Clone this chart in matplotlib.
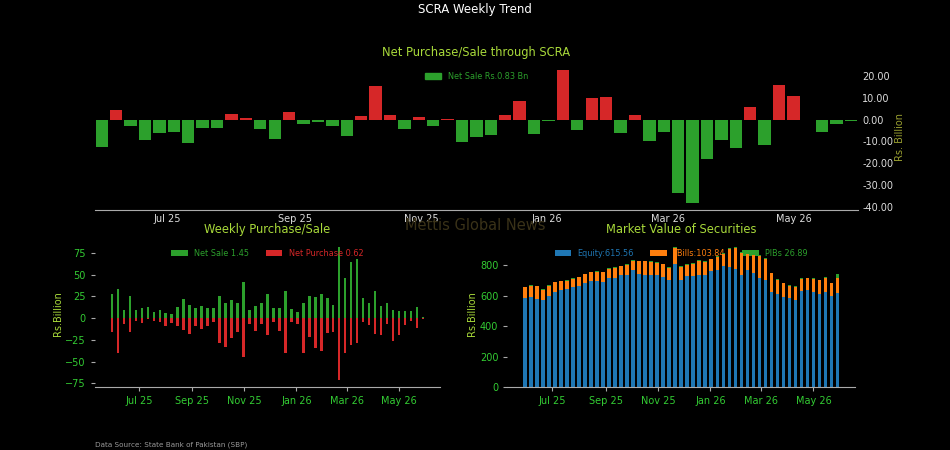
import matplotlib
matplotlib.use("Agg")
import matplotlib.pyplot as plt
import matplotlib.dates as mdates
from matplotlib.patches import Patch
import pandas as pd
import numpy as np

# ---------------- data ----------------
weeks = pd.date_range("2025-05-30", periods=53, freq="7D")

net_scra = [-12.6, 4.6, -2.8, -9.2, -6.1, -5.8, -10.9, -3.8, -3.8, 2.8,
            0.6, -4.1, -8.8, 3.5, -2.0, -0.9, -3.1, -7.7, 1.8, 15.7,
            2.1, -4.1, 1.4, -2.8, 0.3, -10.3, -8.0, -7.1, 2.1, 8.6,
            -6.8, -0.6, 23.0, -4.6, 9.8, 10.6, -6.3, 2.3, -9.7, -5.7,
            -33.8, -38.6, -18.3, -9.4, -12.9, 6.0, -11.5, 16.0, 10.8, 0.0,
            -5.7, -1.8, -0.83]

net_sale = [27.3, 33.8, 9.6, 25.8, 8.8, 11.2, 12.7, 7.3, 8.8, 5.8,
            5.0, 13.0, 22.3, 14.6, 11.5, 14.2, 12.0, 11.2, 25.8, 17.7,
            21.2, 17.0, 42.0, 9.6, 14.2, 17.7, 27.3, 11.5, 12.0, 31.5,
            10.8, 7.3, 17.3, 25.8, 24.2, 27.3, 23.5, 14.6, 82.3, 46.5,
            64.2, 67.7, 23.5, 17.0, 31.5, 14.2, 17.7, 9.6, 8.1, 8.5,
            8.5, 13.0, 1.45]
net_purchase = [15.4, 39.6, 7.3, 15.8, 3.0, 5.4, 1.5, 3.0, 5.0, 8.5,
                5.4, 8.5, 14.2, 18.0, 8.8, 13.0, 8.8, 4.2, 28.5, 33.5,
                23.0, 15.4, 44.2, 7.3, 14.6, 6.9, 19.2, 4.2, 14.6, 40.0,
                4.2, 7.3, 40.4, 21.2, 34.2, 38.0, 16.9, 16.5, 71.5, 40.4,
                31.2, 28.8, 4.6, 8.0, 18.5, 19.2, 6.2, 25.8, 19.2, 8.0,
                3.1, 10.8, 0.62]

equity = [584, 590, 582, 571, 597, 625, 638, 647, 658, 664,
          684, 695, 699, 693, 715, 719, 734, 739, 771, 745,
          739, 739, 734, 723, 701, 806, 701, 728, 728, 739,
          734, 760, 767, 795, 789, 778, 739, 767, 747, 715,
          701, 625, 610, 595, 586, 571, 630, 641, 623, 614,
          623, 597, 615.56]
tbills = [72, 77, 80, 69, 67, 63, 57, 52, 52, 57,
          57, 59, 59, 61, 63, 63, 59, 65, 61, 81,
          87, 82, 83, 83, 81, 107, 88, 76, 82, 93,
          90, 79, 89, 81, 119, 139, 143, 109, 122, 150,
          140, 122, 96, 87, 81, 87, 82, 74, 87, 87,
          94, 85, 103.84]
pibs = [5, 5, 5, 5, 5, 5, 5, 5, 5, 5,
        5, 5, 5, 5, 5, 5, 5, 5, 6, 5,
        5, 5, 5, 5, 5, 6, 5, 5, 5, 5,
        5, 5, 5, 5, 5, 5, 5, 5, 5, 5,
        5, 5, 5, 5, 5, 5, 5, 5, 5, 5,
        5, 5, 26.89]

top_legend = "Net Sale Rs.0.83 Bn"
sale_label = "Net Sale 1.45"
purchase_label = "Net Purchase 0.62"
eq_label = "Equity:615.56"
tb_label = "TBills:103.84"
pib_label = "PIBs 26.89"

# ---------------- style ----------------
BG = "black"
GREEN = "#2ca02c"
RED = "#d62728"
TITLE_C = "#a8d93a"
TICK_G = "#33cc33"
SPINE_C = "#aaaaaa"
TS = 8.3   # title size
KS = 7     # tick size
LS = 5.9   # legend size

fig = plt.figure(figsize=(9.5, 4.5), dpi=100, facecolor=BG)
fig.text(0.5, 0.978, "SCRA Weekly Trend", color="white", fontsize=8.5,
         ha="center", va="center")

date_fmt = mdates.DateFormatter("%b %y")
loc = mdates.MonthLocator(bymonth=[1, 3, 5, 7, 9, 11])

# ---------------- top chart ----------------
ax1 = fig.add_axes([0.1, 0.533, 0.803, 0.327], facecolor=BG)
cols = [RED if v > 0 else GREEN for v in net_scra]
ax1.bar(weeks, net_scra, width=6, color=cols)
ax1.set_xlim(weeks[0] - pd.Timedelta(days=3.3), weeks[-1] + pd.Timedelta(days=3.3))
ax1.xaxis.set_major_locator(loc)
ax1.xaxis.set_major_formatter(date_fmt)
ax1.yaxis.tick_right()
ax1.yaxis.set_label_position("right")
ax1.yaxis.set_major_formatter(matplotlib.ticker.FormatStrFormatter("%.2f"))
ax1.set_yticks([-40, -30, -20, -10, 0, 10, 20])
ax1.tick_params(axis="both", colors="#dddddd", labelsize=KS, length=0, pad=3)
ax1.set_ylabel("Rs. Billion", color="#9aa030", fontsize=7, labelpad=1)
for s in ["top", "left", "right"]:
    ax1.spines[s].set_visible(False)
ax1.spines["bottom"].set_color(SPINE_C)
ax1.set_title("Net Purchase/Sale through SCRA", color=TITLE_C, fontsize=TS, pad=5)
leg1 = ax1.legend(handles=[Patch(color=GREEN, label=top_legend)], loc="upper center",
                  frameon=False, fontsize=LS, labelcolor=GREEN,
                  bbox_to_anchor=(0.5, 0.99))

# ---------------- bottom-left ----------------
ax2 = fig.add_axes([0.1, 0.14, 0.363, 0.327], facecolor=BG)
ax2.bar(weeks, net_sale, width=3, color=GREEN, label=sale_label)
ax2.bar(weeks, [-v for v in net_purchase], width=3, color=RED, label=purchase_label)
ax2.xaxis.set_major_locator(loc)
ax2.xaxis.set_major_formatter(date_fmt)
ax2.set_yticks([-75, -50, -25, 0, 25, 50, 75])
ax2.tick_params(axis="both", colors=SPINE_C, labelcolor=TICK_G, labelsize=KS, length=3)
ax2.set_ylabel("Rs.Billion", color=TITLE_C, fontsize=7, labelpad=2)
for s in ["top", "left", "right"]:
    ax2.spines[s].set_visible(False)
ax2.spines["bottom"].set_color(SPINE_C)
ax2.set_title("Weekly Purchase/Sale", color=TITLE_C, fontsize=TS, pad=5)
ax2.legend(loc="upper center", ncol=2, frameon=False, fontsize=LS,
           labelcolor=[GREEN, RED], bbox_to_anchor=(0.5, 0.99))

# ---------------- bottom-right ----------------
ax3 = fig.add_axes([0.534, 0.14, 0.366, 0.327], facecolor=BG)
eq = np.array(equity)
tb = np.array(tbills)
pb = np.array(pibs)
ax3.bar(weeks, eq, width=4, color="#1f77b4", label=eq_label)
ax3.bar(weeks, tb, width=4, bottom=eq, color="#ff7f0e", label=tb_label)
ax3.bar(weeks, pb, width=4, bottom=eq + tb, color="#2ca02c", label=pib_label)
ax3.xaxis.set_major_locator(loc)
ax3.xaxis.set_major_formatter(date_fmt)
ax3.set_yticks([0, 200, 400, 600, 800])
ax3.tick_params(axis="both", colors=SPINE_C, labelcolor=TICK_G, labelsize=KS, length=3)
ax3.set_ylabel("Rs.Billion", color=TITLE_C, fontsize=7, labelpad=2)
for s in ["top", "left", "right"]:
    ax3.spines[s].set_visible(False)
ax3.spines["bottom"].set_color(SPINE_C)
ax3.set_title("Market Value of Securities", color=TITLE_C, fontsize=TS, pad=5)
leg3 = ax3.legend(loc="upper center", ncol=3, frameon=False, fontsize=LS,
                  labelcolor=["#1f77b4", "#ff7f0e", "#2ca02c"],
                  bbox_to_anchor=(0.5, 0.99))
leg3.set_zorder(0.5)

fig.text(0.5, 0.498, "Mettis Global News", color="#3a3218", fontsize=10.5,
         ha="center", va="center", zorder=0.5)
fig.text(0.1, 0.004, "Data Source: State Bank of Pakistan (SBP)", color="#999999",
         fontsize=5.2, ha="left", va="bottom")

fig.savefig("out.png", dpi=100, facecolor=BG)
